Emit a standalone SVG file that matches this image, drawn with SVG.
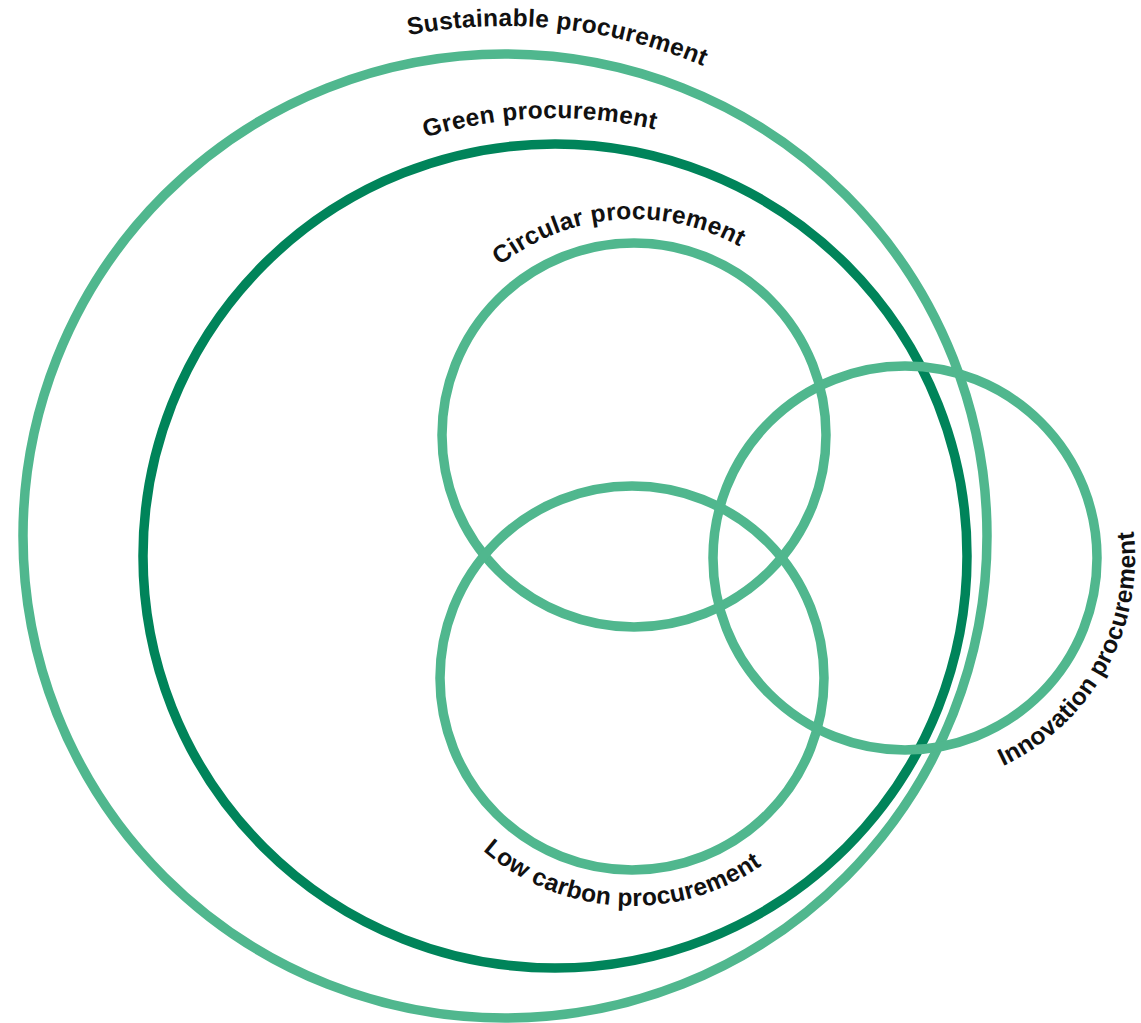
<svg xmlns="http://www.w3.org/2000/svg" width="1141" height="1023" viewBox="0 0 1141 1023">
  <style>
    .ring { fill: none; stroke-width: 9.5; }
    .light { stroke: #50b78e; }
    .dark { stroke: #00845a; }
    .label { font-family: "Liberation Sans", Arial, sans-serif; font-weight: bold; font-size: 24.5px; fill: #111111; letter-spacing: 0.3px; }
  </style>
  <defs>
    <path id="p-sust" d="M92.4,236.2 A510,510 0 0 1 970.9,328.6"/>
    <path id="p-green" d="M168.3,350.4 A438,438 0 0 1 926.4,323.9"/>
    <path id="p-circ" d="M439,342 A216,216 0 0 1 812,312.7"/>
    <path id="p-low" d="M428.9,781.5 A228,228 0 0 0 823.2,802.2"/>
    <path id="p-inno" d="M909,788 A230,230 0 0 0 1102.2,439.5"/>
  </defs>
  <rect width="1141" height="1023" fill="#ffffff"/>
  <g id="sustainable">
    <circle class="ring light" cx="505" cy="536" r="482"/>
    <text class="label"><textPath href="#p-sust" startOffset="50%" text-anchor="middle">Sustainable procurement</textPath></text>
  </g>
  <g id="green">
    <circle class="ring dark" cx="555" cy="556" r="412"/>
    <text class="label"><textPath href="#p-green" startOffset="50%" text-anchor="middle">Green procurement</textPath></text>
  </g>
  <g id="circular">
    <circle class="ring light" cx="634" cy="435" r="192"/>
    <text class="label"><textPath href="#p-circ" startOffset="50%" text-anchor="middle">Circular procurement</textPath></text>
  </g>
  <g id="lowcarbon">
    <circle class="ring light" cx="632" cy="678" r="192"/>
    <text class="label"><textPath href="#p-low" startOffset="50%" text-anchor="middle">Low carbon procurement</textPath></text>
  </g>
  <g id="innovation">
    <circle class="ring light" cx="905" cy="558" r="192"/>
    <text class="label"><textPath href="#p-inno" startOffset="50%" text-anchor="middle">Innovation procurement</textPath></text>
  </g>
  <g id="connectors"/>
</svg>
